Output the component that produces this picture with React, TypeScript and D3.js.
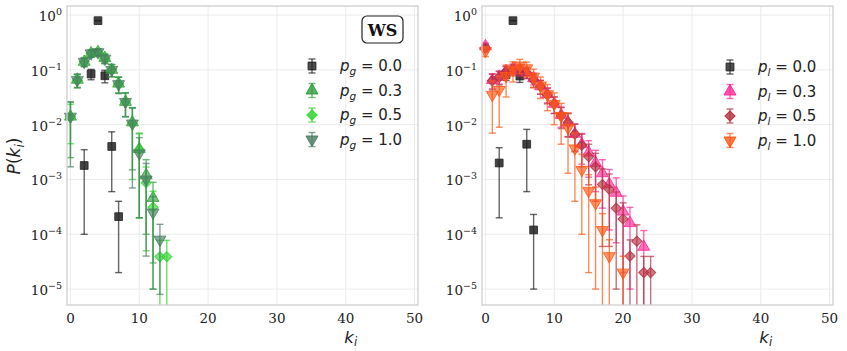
import React, { useRef, useEffect } from 'react';
import * as d3 from 'd3';

// x ticks and y decades
const X_TICKS = [0, 10, 20, 30, 40, 50];
const Y_EXPONENTS = [0, -1, -2, -3, -4, -5];

// ---- left panel (WS, p_g) ----
const kG00 = [2, 3, 4, 5, 6, 7];
const pG00 = [0.0018, 0.084, 0.79, 0.078, 0.004, 0.00021];
const eG00 = [0.0017, 0.018, 0.012, 0.02, 0.0034, 0.00019];

const kG03 = [0, 1, 2, 3, 4, 5, 6, 7, 8, 9, 10, 11, 12];
const pG03 = [0.014, 0.066, 0.14, 0.2, 0.21, 0.165, 0.1, 0.056, 0.026, 0.011, 0.0036, 0.0012, 0.00046];
const eG03 = [0.0115, 0.018, 0.025, 0.03, 0.03, 0.03, 0.025, 0.018, 0.012, 0.0095, 0.0034, 0.0011, 0.00043];

const kG05 = [0, 1, 2, 3, 4, 5, 6, 7, 8, 9, 10, 11, 12, 13, 14];
const pG05 = [0.014, 0.064, 0.14, 0.2, 0.21, 0.16, 0.1, 0.055, 0.026, 0.0105, 0.0035, 0.00087, 0.00031, 0.000039, 0.000039];
const eG05 = [0.0095, 0.017, 0.025, 0.03, 0.03, 0.03, 0.025, 0.018, 0.012, 0.0095, 0.0033, 0.00082, 0.0003, 0.0000385, 0.0000385];

const kG10 = [0, 1, 2, 3, 4, 5, 6, 7, 8, 9, 10, 11, 12, 13];
const pG10 = [0.014, 0.065, 0.14, 0.2, 0.21, 0.16, 0.1, 0.055, 0.026, 0.0105, 0.003, 0.001, 0.00025, 0.00008];
const eG10 = [0.0123, 0.018, 0.025, 0.03, 0.03, 0.03, 0.025, 0.018, 0.012, 0.0098, 0.0028, 0.00096, 0.00024, 0.000072];

// ---- right panel (p_l) ----
const kL00 = [2, 3, 4, 5, 6, 7];
const pL00 = [0.002, 0.082, 0.79, 0.077, 0.0044, 0.00012];
const eL00 = [0.0018, 0.018, 0.012, 0.018, 0.0038, 0.00011];

const kL03 = [0, 1, 2, 3, 4, 5, 6, 7, 8, 9, 10, 11, 12, 13, 14, 15, 16, 17, 18, 19, 20, 21, 23];
const pL03 = [0.27, 0.065, 0.075, 0.095, 0.105, 0.1, 0.09, 0.07, 0.05, 0.036, 0.024, 0.015, 0.011, 0.0068, 0.0044, 0.0031, 0.002, 0.0013, 0.00082, 0.00057, 0.00026, 0.00016, 0.000059];
const eL03 = [0.04, 0.02, 0.02, 0.022, 0.022, 0.022, 0.02, 0.017, 0.014, 0.011, 0.008, 0.006, 0.005, 0.0035, 0.0025, 0.002, 0.0014, 0.001, 0.0007, 0.0005, 0.00024, 0.00015, 0.000058];

const kL05 = [0, 1, 2, 3, 4, 5, 6, 7, 8, 9, 10, 11, 12, 13, 14, 15, 16, 17, 18, 19, 20, 21, 22, 23, 24];
const pL05 = [0.25, 0.063, 0.073, 0.093, 0.1, 0.1, 0.089, 0.065, 0.05, 0.035, 0.024, 0.0145, 0.011, 0.0067, 0.0042, 0.0026, 0.0017, 0.00081, 0.00066, 0.0003, 0.00019, 0.00004, 0.000075, 0.00002, 0.00002];
const eL05 = [0.04, 0.02, 0.02, 0.022, 0.022, 0.022, 0.02, 0.017, 0.014, 0.011, 0.008, 0.006, 0.005, 0.0035, 0.0025, 0.0018, 0.0013, 0.00075, 0.0006, 0.00029, 0.000185, 0.000039, 0.000074, 0.0000195, 0.0000195];

const kL10 = [0, 1, 2, 3, 4, 5, 6, 7, 8, 9, 10, 11, 12, 13, 14, 15, 16, 17, 18, 20];
const pL10 = [0.22, 0.035, 0.043, 0.077, 0.1, 0.12, 0.107, 0.075, 0.052, 0.036, 0.024, 0.0144, 0.0088, 0.0037, 0.0015, 0.00062, 0.00037, 0.00012, 0.00004, 0.00002];
const eL10 = [0.045, 0.028, 0.034, 0.045, 0.04, 0.035, 0.032, 0.028, 0.022, 0.018, 0.014, 0.01, 0.0075, 0.0033, 0.0014, 0.0006, 0.00036, 0.000118, 0.0000395, 0.0000198];

const LEFT_LABELS = ['0.0', '0.3', '0.5', '1.0'];
const RIGHT_LABELS = ['0.0', '0.3', '0.5', '1.0'];

type Series = { k: number[]; p: number[]; e: number[]; color: string; shape: string; label: string };

const leftSeries: Series[] = [
  { k: kG00, p: pG00, e: eG00, color: '#222222', shape: 'square', label: LEFT_LABELS[0] },
  { k: kG03, p: pG03, e: eG03, color: '#2f9e3a', shape: 'up', label: LEFT_LABELS[1] },
  { k: kG05, p: pG05, e: eG05, color: '#2fd42f', shape: 'diamond', label: LEFT_LABELS[2] },
  { k: kG10, p: pG10, e: eG10, color: '#4a7d62', shape: 'down', label: LEFT_LABELS[3] },
];

const rightSeries: Series[] = [
  { k: kL00, p: pL00, e: eL00, color: '#222222', shape: 'square', label: RIGHT_LABELS[0] },
  { k: kL03, p: pL03, e: eL03, color: '#ff2896', shape: 'up', label: RIGHT_LABELS[1] },
  { k: kL05, p: pL05, e: eL05, color: '#b3303f', shape: 'diamond', label: RIGHT_LABELS[2] },
  { k: kL10, p: pL10, e: eL10, color: '#ff5714', shape: 'down', label: RIGHT_LABELS[3] },
];

const W = 847;
const H = 351;
const TOP = 6;
const BOTTOM = 305;
const Y_DOMAIN = [Math.pow(10, -5.29), Math.pow(10, 0.165)];
const X_DOMAIN = [-0.5, 50.5];

const SERIF = 'DejaVu Serif, serif';
const SANS = 'DejaVu Sans, sans-serif';

function markerPath(shape: string) {
  if (shape === 'square') return d3.symbol(d3.symbolSquare, 60)();
  if (shape === 'diamond') return d3.symbol(d3.symbolSquare, 52)();
  return d3.symbol(d3.symbolTriangle, 62)();
}
function markerRotate(shape: string) {
  if (shape === 'diamond') return 45;
  if (shape === 'down') return 180;
  return 0;
}

function drawPanel(svg: any, x0: number, x1: number, series: Series[], sub: string, legendX: number, legendY: number) {
  const x = d3.scaleLinear().domain(X_DOMAIN).range([x0, x1]);
  const y = d3.scaleLog().domain(Y_DOMAIN).range([BOTTOM, TOP]);
  const g = svg.append('g');

  // grid
  g.selectAll('line.gx').data(X_TICKS).join('line')
    .attr('x1', (d: number) => x(d)).attr('x2', (d: number) => x(d))
    .attr('y1', TOP).attr('y2', BOTTOM)
    .attr('stroke', '#ebebeb').attr('stroke-width', 1);
  g.selectAll('line.gy').data(Y_EXPONENTS).join('line')
    .attr('x1', x0).attr('x2', x1)
    .attr('y1', (d: number) => y(Math.pow(10, d))).attr('y2', (d: number) => y(Math.pow(10, d)))
    .attr('stroke', '#ebebeb').attr('stroke-width', 1);

  // tick labels
  g.selectAll('text.tx').data(X_TICKS).join('text')
    .attr('x', (d: number) => x(d)).attr('y', BOTTOM + 18)
    .attr('text-anchor', 'middle').attr('font-family', SERIF).attr('font-size', 13.5)
    .attr('fill', '#222').text((d: number) => String(d));
  const yt = g.selectAll('text.ty').data(Y_EXPONENTS).join('text')
    .attr('x', x0 - 5).attr('y', (d: number) => y(Math.pow(10, d)) + 6)
    .attr('text-anchor', 'end').attr('font-family', SERIF).attr('font-size', 13.5).attr('fill', '#222');
  yt.append('tspan').text('10');
  yt.append('tspan').attr('dy', -6).attr('font-size', 9.5)
    .text((d: number) => (d === 0 ? '0' : '\u2212' + String(-d)));

  // data
  const lo = Y_DOMAIN[0] * 0.5;
  series.forEach((s) => {
    const sg = g.append('g');
    const pts = s.k.map((k, i) => ({ k, p: s.p[i], e: s.e[i] }));
    const bars = sg.selectAll('g.bar').data(pts).join('g')
      .attr('stroke', s.color).attr('stroke-opacity', 0.7).attr('stroke-width', 1.4);
    bars.append('line')
      .attr('x1', (d: any) => x(d.k)).attr('x2', (d: any) => x(d.k))
      .attr('y1', (d: any) => y(d.p + d.e))
      .attr('y2', (d: any) => Math.min(BOTTOM, y(Math.max(lo, d.p - d.e))));
    bars.append('line')
      .attr('x1', (d: any) => x(d.k) - 3.5).attr('x2', (d: any) => x(d.k) + 3.5)
      .attr('y1', (d: any) => y(d.p + d.e)).attr('y2', (d: any) => y(d.p + d.e));
    bars.filter((d: any) => d.p - d.e > Y_DOMAIN[0]).append('line')
      .attr('x1', (d: any) => x(d.k) - 3.5).attr('x2', (d: any) => x(d.k) + 3.5)
      .attr('y1', (d: any) => y(d.p - d.e)).attr('y2', (d: any) => y(d.p - d.e));
    sg.selectAll('path').data(pts).join('path')
      .attr('d', markerPath(s.shape))
      .attr('transform', (d: any) => `translate(${x(d.k)},${y(d.p)}) rotate(${markerRotate(s.shape)})`)
      .attr('fill', s.color).attr('fill-opacity', s.shape === 'square' ? 0.85 : 0.65)
      .attr('stroke', s.color).attr('stroke-opacity', 0.8).attr('stroke-width', 1);
  });

  // frame
  g.append('rect').attr('x', x0).attr('y', TOP).attr('width', x1 - x0).attr('height', BOTTOM - TOP)
    .attr('fill', 'none').attr('stroke', '#cfcfcf').attr('stroke-width', 1.3);

  // x label
  const xl = g.append('text').attr('x', x(40) + 5).attr('y', BOTTOM + 38)
    .attr('text-anchor', 'middle').attr('font-family', SANS).attr('font-size', 16.5).attr('fill', '#222');
  xl.append('tspan').attr('font-style', 'italic').text('k');
  xl.append('tspan').attr('font-style', 'italic').attr('font-size', 11.5).attr('dy', 3).text('i');

  // legend
  series.forEach((s, i) => {
    const ly = legendY + i * 24.5;
    const lg = g.append('g');
    lg.append('line').attr('x1', legendX).attr('x2', legendX).attr('y1', ly - 7).attr('y2', ly + 7)
      .attr('stroke', s.color).attr('stroke-opacity', 0.7).attr('stroke-width', 1.4);
    [ly - 7, ly + 7].forEach((cy) => {
      lg.append('line').attr('x1', legendX - 3.5).attr('x2', legendX + 3.5).attr('y1', cy).attr('y2', cy)
        .attr('stroke', s.color).attr('stroke-opacity', 0.7).attr('stroke-width', 1.4);
    });
    lg.append('path').attr('d', markerPath(s.shape))
      .attr('transform', `translate(${legendX},${ly}) rotate(${markerRotate(s.shape)})`)
      .attr('fill', s.color).attr('fill-opacity', 0.8).attr('stroke', s.color);
    const t = lg.append('text').attr('x', legendX + 28).attr('y', ly + 5)
      .attr('font-family', SANS).attr('font-size', 15).attr('fill', '#222');
    t.append('tspan').attr('font-style', 'italic').text('p');
    t.append('tspan').attr('font-style', 'italic').attr('font-size', 10.5).attr('dy', 4).text(sub);
    t.append('tspan').attr('dy', -4).text(' = ' + s.label);
  });
}

function App() {
  const ref = useRef<SVGSVGElement>(null);

  useEffect(() => {
    const svg = d3.select(ref.current);
    svg.selectAll('*').remove();

    drawPanel(svg, 67, 418, leftSeries, 'g', 312, 66);
    drawPanel(svg, 482, 833, rightSeries, 'l', 730, 67);

    // y label
    const yl = svg.append('text').attr('transform', 'translate(20,156) rotate(-90)')
      .attr('text-anchor', 'middle').attr('font-family', SANS).attr('font-size', 17).attr('fill', '#222');
    yl.append('tspan').attr('font-style', 'italic').text('P');
    yl.append('tspan').text('(');
    yl.append('tspan').attr('font-style', 'italic').text('k');
    yl.append('tspan').attr('font-style', 'italic').attr('font-size', 12).attr('dy', 4).text('i');
    yl.append('tspan').attr('dy', -4).text(')');

    // WS badge
    svg.append('rect').attr('x', 362).attr('y', 16).attr('width', 41).attr('height', 27).attr('rx', 5)
      .attr('fill', 'white').attr('stroke', '#222').attr('stroke-width', 1.2);
    svg.append('text').attr('x', 382.5).attr('y', 35.5).attr('text-anchor', 'middle')
      .attr('font-family', SERIF).attr('font-weight', 'bold').attr('font-size', 16).attr('fill', '#111')
      .text('WS');
  }, []);

  return (
    <svg ref={ref} width={W} height={H} style={{ position: 'absolute', left: 0, top: 0, background: 'white' }}></svg>
  );
}

export default App;
